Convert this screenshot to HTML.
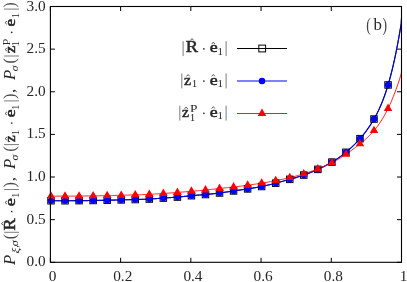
<!DOCTYPE html><html><head><meta charset="utf-8"><title>plot</title><style>html,body{margin:0;padding:0;background:#fff}svg{display:block}text{font-family:"Liberation Serif",serif;fill:#262626}</style></head><body>
<svg width="407" height="282" viewBox="0 0 407 282">
<rect width="407" height="282" fill="#fff"/>
<defs><filter id="g" x="0" y="0" width="100%" height="100%" filterUnits="userSpaceOnUse" color-interpolation-filters="sRGB"><feColorMatrix type="saturate" values="0"/></filter></defs>
<path d="M50.40,262.3v-4.5M50.40,6.5v4.5M120.62,262.3v-4.5M120.62,6.5v4.5M190.84,262.3v-4.5M190.84,6.5v4.5M261.06,262.3v-4.5M261.06,6.5v4.5M331.28,262.3v-4.5M331.28,6.5v4.5M401.50,262.3v-4.5M401.50,6.5v4.5M50.4,262.30h4.5M401.5,262.30h-4.5M50.4,219.67h4.5M401.5,219.67h-4.5M50.4,177.03h4.5M401.5,177.03h-4.5M50.4,134.40h4.5M401.5,134.40h-4.5M50.4,91.77h4.5M401.5,91.77h-4.5M50.4,49.13h4.5M401.5,49.13h-4.5M50.4,6.50h4.5M401.5,6.50h-4.5" stroke="#000" stroke-width="1" fill="none"/>
<path d="M51.00,200.74 L51.88,200.74 L52.76,200.74 L53.63,200.74 L54.51,200.75 L55.39,200.75 L56.27,200.75 L57.14,200.75 L58.02,200.75 L58.90,200.75 L59.78,200.75 L60.66,200.75 L61.53,200.75 L62.41,200.74 L63.29,200.74 L64.17,200.74 L65.04,200.74 L65.92,200.73 L66.80,200.73 L67.68,200.73 L68.55,200.72 L69.43,200.72 L70.31,200.72 L71.19,200.71 L72.07,200.71 L72.94,200.70 L73.82,200.69 L74.70,200.69 L75.58,200.68 L76.45,200.67 L77.33,200.67 L78.21,200.66 L79.09,200.65 L79.97,200.64 L80.84,200.64 L81.72,200.63 L82.60,200.62 L83.48,200.61 L84.35,200.60 L85.23,200.59 L86.11,200.58 L86.99,200.57 L87.87,200.56 L88.74,200.54 L89.62,200.53 L90.50,200.52 L91.38,200.51 L92.25,200.49 L93.13,200.48 L94.01,200.47 L94.89,200.45 L95.77,200.44 L96.64,200.43 L97.52,200.41 L98.40,200.40 L99.28,200.38 L100.15,200.37 L101.03,200.35 L101.91,200.33 L102.79,200.32 L103.66,200.30 L104.54,200.28 L105.42,200.26 L106.30,200.24 L107.18,200.23 L108.05,200.21 L108.93,200.19 L109.81,200.17 L110.69,200.15 L111.56,200.12 L112.44,200.10 L113.32,200.08 L114.20,200.06 L115.08,200.04 L115.95,200.02 L116.83,199.99 L117.71,199.97 L118.59,199.95 L119.46,199.93 L120.34,199.91 L121.22,199.88 L122.10,199.86 L122.98,199.84 L123.85,199.82 L124.73,199.80 L125.61,199.78 L126.49,199.76 L127.36,199.74 L128.24,199.72 L129.12,199.70 L130.00,199.68 L130.88,199.65 L131.75,199.63 L132.63,199.61 L133.51,199.59 L134.39,199.57 L135.26,199.54 L136.14,199.52 L137.02,199.50 L137.90,199.47 L138.78,199.45 L139.65,199.42 L140.53,199.39 L141.41,199.37 L142.29,199.34 L143.16,199.30 L144.04,199.27 L144.92,199.24 L145.80,199.20 L146.67,199.16 L147.55,199.12 L148.43,199.08 L149.31,199.03 L150.19,198.98 L151.06,198.93 L151.94,198.88 L152.82,198.83 L153.70,198.77 L154.57,198.71 L155.45,198.65 L156.33,198.59 L157.21,198.53 L158.09,198.47 L158.96,198.41 L159.84,198.34 L160.72,198.28 L161.60,198.22 L162.47,198.16 L163.35,198.09 L164.23,198.03 L165.11,197.97 L165.99,197.91 L166.86,197.85 L167.74,197.79 L168.62,197.73 L169.50,197.67 L170.37,197.61 L171.25,197.55 L172.13,197.49 L173.01,197.42 L173.89,197.36 L174.76,197.29 L175.64,197.22 L176.52,197.15 L177.40,197.07 L178.27,196.99 L179.15,196.91 L180.03,196.83 L180.91,196.75 L181.78,196.66 L182.66,196.57 L183.54,196.49 L184.42,196.40 L185.30,196.31 L186.17,196.22 L187.05,196.13 L187.93,196.05 L188.81,195.96 L189.68,195.87 L190.56,195.79 L191.44,195.71 L192.32,195.63 L193.20,195.55 L194.07,195.47 L194.95,195.40 L195.83,195.32 L196.71,195.25 L197.58,195.18 L198.46,195.10 L199.34,195.03 L200.22,194.96 L201.10,194.89 L201.97,194.82 L202.85,194.74 L203.73,194.67 L204.61,194.59 L205.48,194.51 L206.36,194.43 L207.24,194.35 L208.12,194.27 L209.00,194.18 L209.87,194.10 L210.75,194.01 L211.63,193.91 L212.51,193.82 L213.38,193.72 L214.26,193.62 L215.14,193.52 L216.02,193.42 L216.89,193.31 L217.77,193.20 L218.65,193.09 L219.53,192.98 L220.41,192.86 L221.28,192.74 L222.16,192.62 L223.04,192.50 L223.92,192.37 L224.79,192.24 L225.67,192.11 L226.55,191.98 L227.43,191.85 L228.31,191.72 L229.18,191.59 L230.06,191.46 L230.94,191.33 L231.82,191.19 L232.69,191.06 L233.57,190.93 L234.45,190.80 L235.33,190.67 L236.21,190.54 L237.08,190.42 L237.96,190.29 L238.84,190.16 L239.72,190.04 L240.59,189.91 L241.47,189.78 L242.35,189.66 L243.23,189.53 L244.11,189.40 L244.98,189.27 L245.86,189.15 L246.74,189.02 L247.62,188.89 L248.49,188.75 L249.37,188.62 L250.25,188.49 L251.13,188.35 L252.00,188.21 L252.88,188.07 L253.76,187.93 L254.64,187.79 L255.52,187.64 L256.39,187.49 L257.27,187.33 L258.15,187.17 L259.03,187.01 L259.90,186.84 L260.78,186.67 L261.66,186.50 L262.54,186.32 L263.42,186.13 L264.29,185.94 L265.17,185.75 L266.05,185.55 L266.93,185.35 L267.80,185.15 L268.68,184.94 L269.56,184.73 L270.44,184.51 L271.32,184.30 L272.19,184.08 L273.07,183.85 L273.95,183.63 L274.83,183.40 L275.70,183.17 L276.58,182.94 L277.46,182.71 L278.34,182.48 L279.22,182.24 L280.09,182.00 L280.97,181.77 L281.85,181.53 L282.73,181.29 L283.60,181.04 L284.48,180.80 L285.36,180.56 L286.24,180.32 L287.11,180.07 L287.99,179.83 L288.87,179.58 L289.75,179.34 L290.63,179.09 L291.50,178.84 L292.38,178.60 L293.26,178.35 L294.14,178.09 L295.01,177.84 L295.89,177.58 L296.77,177.32 L297.65,177.06 L298.53,176.79 L299.40,176.52 L300.28,176.24 L301.16,175.96 L302.04,175.67 L302.91,175.37 L303.79,175.07 L304.67,174.76 L305.55,174.45 L306.43,174.12 L307.30,173.79 L308.18,173.46 L309.06,173.11 L309.94,172.76 L310.81,172.41 L311.69,172.04 L312.57,171.68 L313.45,171.30 L314.33,170.93 L315.20,170.54 L316.08,170.15 L316.96,169.76 L317.84,169.36 L318.71,168.96 L319.59,168.55 L320.47,168.13 L321.35,167.71 L322.22,167.29 L323.10,166.86 L323.98,166.42 L324.86,165.97 L325.74,165.52 L326.61,165.06 L327.49,164.59 L328.37,164.11 L329.25,163.62 L330.12,163.13 L331.00,162.63 L331.88,162.11 L332.76,161.59 L333.64,161.05 L334.51,160.51 L335.39,159.95 L336.27,159.39 L337.15,158.81 L338.02,158.22 L338.90,157.61 L339.78,157.00 L340.66,156.37 L341.54,155.73 L342.41,155.07 L343.29,154.40 L344.17,153.72 L345.05,153.02 L345.92,152.31 L346.80,151.58 L347.68,150.83 L348.56,150.07 L349.44,149.30 L350.31,148.51 L351.19,147.70 L352.07,146.88 L352.95,146.03 L353.82,145.18 L354.70,144.30 L355.58,143.41 L356.46,142.49 L357.33,141.56 L358.21,140.62 L359.09,139.65 L359.97,138.66 L360.85,137.66 L361.72,136.63 L362.60,135.58 L363.48,134.51 L364.36,133.41 L365.23,132.28 L366.11,131.12 L366.99,129.93 L367.87,128.71 L368.75,127.45 L369.62,126.15 L370.50,124.82 L371.38,123.44 L372.26,122.02 L373.13,120.56 L374.01,119.05 L374.89,117.49 L375.77,115.88 L376.65,114.21 L377.52,112.48 L378.40,110.68 L379.28,108.81 L380.16,106.85 L381.03,104.82 L381.91,102.70 L382.79,100.48 L383.67,98.17 L384.55,95.75 L385.42,93.22 L386.30,90.58 L387.18,87.83 L388.06,84.95 L388.93,81.94 L389.81,78.79 L390.69,75.51 L391.57,72.09 L392.44,68.52 L393.32,64.79 L394.20,60.91 L395.08,56.86 L395.96,52.65 L396.83,48.26 L397.71,43.69 L398.59,38.94 L399.47,34.01 L400.34,28.87 L401.22,23.54 L401.50,18.01" stroke="#000" stroke-width="0.9" fill="none"/>
<path d="M51.00,200.74 L51.88,200.74 L52.76,200.74 L53.63,200.74 L54.51,200.75 L55.39,200.75 L56.27,200.75 L57.14,200.75 L58.02,200.75 L58.90,200.75 L59.78,200.75 L60.66,200.75 L61.53,200.75 L62.41,200.74 L63.29,200.74 L64.17,200.74 L65.04,200.74 L65.92,200.73 L66.80,200.73 L67.68,200.73 L68.55,200.72 L69.43,200.72 L70.31,200.72 L71.19,200.71 L72.07,200.71 L72.94,200.70 L73.82,200.69 L74.70,200.69 L75.58,200.68 L76.45,200.67 L77.33,200.67 L78.21,200.66 L79.09,200.65 L79.97,200.64 L80.84,200.64 L81.72,200.63 L82.60,200.62 L83.48,200.61 L84.35,200.60 L85.23,200.59 L86.11,200.58 L86.99,200.57 L87.87,200.56 L88.74,200.54 L89.62,200.53 L90.50,200.52 L91.38,200.51 L92.25,200.49 L93.13,200.48 L94.01,200.47 L94.89,200.45 L95.77,200.44 L96.64,200.43 L97.52,200.41 L98.40,200.40 L99.28,200.38 L100.15,200.37 L101.03,200.35 L101.91,200.33 L102.79,200.32 L103.66,200.30 L104.54,200.28 L105.42,200.26 L106.30,200.24 L107.18,200.23 L108.05,200.21 L108.93,200.19 L109.81,200.17 L110.69,200.15 L111.56,200.12 L112.44,200.10 L113.32,200.08 L114.20,200.06 L115.08,200.04 L115.95,200.02 L116.83,199.99 L117.71,199.97 L118.59,199.95 L119.46,199.93 L120.34,199.91 L121.22,199.88 L122.10,199.86 L122.98,199.84 L123.85,199.82 L124.73,199.80 L125.61,199.78 L126.49,199.76 L127.36,199.74 L128.24,199.72 L129.12,199.70 L130.00,199.68 L130.88,199.65 L131.75,199.63 L132.63,199.61 L133.51,199.59 L134.39,199.57 L135.26,199.54 L136.14,199.52 L137.02,199.50 L137.90,199.47 L138.78,199.45 L139.65,199.42 L140.53,199.39 L141.41,199.37 L142.29,199.34 L143.16,199.30 L144.04,199.27 L144.92,199.24 L145.80,199.20 L146.67,199.16 L147.55,199.12 L148.43,199.08 L149.31,199.03 L150.19,198.98 L151.06,198.93 L151.94,198.88 L152.82,198.83 L153.70,198.77 L154.57,198.71 L155.45,198.65 L156.33,198.59 L157.21,198.53 L158.09,198.47 L158.96,198.41 L159.84,198.34 L160.72,198.28 L161.60,198.22 L162.47,198.16 L163.35,198.09 L164.23,198.03 L165.11,197.97 L165.99,197.91 L166.86,197.85 L167.74,197.79 L168.62,197.73 L169.50,197.67 L170.37,197.61 L171.25,197.55 L172.13,197.49 L173.01,197.42 L173.89,197.36 L174.76,197.29 L175.64,197.22 L176.52,197.15 L177.40,197.07 L178.27,196.99 L179.15,196.91 L180.03,196.83 L180.91,196.75 L181.78,196.66 L182.66,196.57 L183.54,196.49 L184.42,196.40 L185.30,196.31 L186.17,196.22 L187.05,196.13 L187.93,196.05 L188.81,195.96 L189.68,195.87 L190.56,195.79 L191.44,195.71 L192.32,195.63 L193.20,195.55 L194.07,195.47 L194.95,195.40 L195.83,195.32 L196.71,195.25 L197.58,195.18 L198.46,195.10 L199.34,195.03 L200.22,194.96 L201.10,194.89 L201.97,194.82 L202.85,194.74 L203.73,194.67 L204.61,194.59 L205.48,194.51 L206.36,194.43 L207.24,194.35 L208.12,194.27 L209.00,194.18 L209.87,194.10 L210.75,194.01 L211.63,193.91 L212.51,193.82 L213.38,193.72 L214.26,193.62 L215.14,193.52 L216.02,193.42 L216.89,193.31 L217.77,193.20 L218.65,193.09 L219.53,192.98 L220.41,192.86 L221.28,192.74 L222.16,192.62 L223.04,192.50 L223.92,192.37 L224.79,192.24 L225.67,192.11 L226.55,191.98 L227.43,191.85 L228.31,191.72 L229.18,191.59 L230.06,191.46 L230.94,191.33 L231.82,191.19 L232.69,191.06 L233.57,190.93 L234.45,190.80 L235.33,190.67 L236.21,190.54 L237.08,190.42 L237.96,190.29 L238.84,190.16 L239.72,190.04 L240.59,189.91 L241.47,189.78 L242.35,189.66 L243.23,189.53 L244.11,189.40 L244.98,189.27 L245.86,189.15 L246.74,189.02 L247.62,188.89 L248.49,188.75 L249.37,188.62 L250.25,188.49 L251.13,188.35 L252.00,188.21 L252.88,188.07 L253.76,187.93 L254.64,187.79 L255.52,187.64 L256.39,187.49 L257.27,187.33 L258.15,187.17 L259.03,187.01 L259.90,186.84 L260.78,186.67 L261.66,186.50 L262.54,186.32 L263.42,186.13 L264.29,185.94 L265.17,185.75 L266.05,185.55 L266.93,185.35 L267.80,185.15 L268.68,184.94 L269.56,184.73 L270.44,184.51 L271.32,184.30 L272.19,184.08 L273.07,183.85 L273.95,183.63 L274.83,183.40 L275.70,183.17 L276.58,182.94 L277.46,182.71 L278.34,182.48 L279.22,182.24 L280.09,182.00 L280.97,181.77 L281.85,181.53 L282.73,181.29 L283.60,181.04 L284.48,180.80 L285.36,180.56 L286.24,180.32 L287.11,180.07 L287.99,179.83 L288.87,179.58 L289.75,179.34 L290.63,179.09 L291.50,178.84 L292.38,178.60 L293.26,178.35 L294.14,178.09 L295.01,177.84 L295.89,177.58 L296.77,177.32 L297.65,177.06 L298.53,176.79 L299.40,176.52 L300.28,176.24 L301.16,175.96 L302.04,175.67 L302.91,175.37 L303.79,175.07 L304.67,174.76 L305.55,174.45 L306.43,174.12 L307.30,173.79 L308.18,173.46 L309.06,173.11 L309.94,172.76 L310.81,172.41 L311.69,172.04 L312.57,171.68 L313.45,171.30 L314.33,170.93 L315.20,170.54 L316.08,170.15 L316.96,169.76 L317.84,169.36 L318.71,168.96 L319.59,168.55 L320.47,168.13 L321.35,167.71 L322.22,167.29 L323.10,166.86 L323.98,166.42 L324.86,165.97 L325.74,165.52 L326.61,165.06 L327.49,164.59 L328.37,164.11 L329.25,163.62 L330.12,163.13 L331.00,162.63 L331.88,162.11 L332.76,161.59 L333.64,161.05 L334.51,160.51 L335.39,159.95 L336.27,159.39 L337.15,158.81 L338.02,158.22 L338.90,157.61 L339.78,157.00 L340.66,156.37 L341.54,155.73 L342.41,155.07 L343.29,154.40 L344.17,153.72 L345.05,153.02 L345.92,152.31 L346.80,151.58 L347.68,150.83 L348.56,150.07 L349.44,149.30 L350.31,148.51 L351.19,147.70 L352.07,146.88 L352.95,146.03 L353.82,145.18 L354.70,144.30 L355.58,143.41 L356.46,142.49 L357.33,141.56 L358.21,140.62 L359.09,139.65 L359.97,138.66 L360.85,137.66 L361.72,136.63 L362.60,135.58 L363.48,134.51 L364.36,133.41 L365.23,132.28 L366.11,131.12 L366.99,129.93 L367.87,128.71 L368.75,127.45 L369.62,126.15 L370.50,124.82 L371.38,123.44 L372.26,122.02 L373.13,120.56 L374.01,119.05 L374.89,117.49 L375.77,115.88 L376.65,114.21 L377.52,112.48 L378.40,110.68 L379.28,108.81 L380.16,106.85 L381.03,104.82 L381.91,102.70 L382.79,100.48 L383.67,98.17 L384.55,95.75 L385.42,93.22 L386.30,90.58 L387.18,87.83 L388.06,84.95 L388.93,81.94 L389.81,78.79 L390.69,75.51 L391.57,72.09 L392.44,68.52 L393.32,64.79 L394.20,60.91 L395.08,56.86 L395.96,52.65 L396.83,48.26 L397.71,43.69 L398.59,38.94 L399.47,34.01 L400.34,28.87 L401.22,23.54 L401.50,18.01" stroke="#0000e0" stroke-width="1.15" fill="none"/>
<path d="M51.00,196.13 L51.88,196.14 L52.76,196.14 L53.63,196.14 L54.51,196.14 L55.39,196.14 L56.27,196.14 L57.14,196.14 L58.02,196.14 L58.90,196.14 L59.78,196.14 L60.66,196.14 L61.53,196.14 L62.41,196.14 L63.29,196.14 L64.17,196.14 L65.04,196.13 L65.92,196.13 L66.80,196.13 L67.68,196.12 L68.55,196.12 L69.43,196.12 L70.31,196.11 L71.19,196.11 L72.07,196.10 L72.94,196.10 L73.82,196.09 L74.70,196.08 L75.58,196.08 L76.45,196.07 L77.33,196.06 L78.21,196.06 L79.09,196.05 L79.97,196.04 L80.84,196.03 L81.72,196.02 L82.60,196.01 L83.48,196.00 L84.35,195.99 L85.23,195.98 L86.11,195.97 L86.99,195.96 L87.87,195.95 L88.74,195.94 L89.62,195.93 L90.50,195.92 L91.38,195.90 L92.25,195.89 L93.13,195.88 L94.01,195.86 L94.89,195.85 L95.77,195.84 L96.64,195.82 L97.52,195.81 L98.40,195.79 L99.28,195.78 L100.15,195.76 L101.03,195.74 L101.91,195.73 L102.79,195.71 L103.66,195.69 L104.54,195.68 L105.42,195.66 L106.30,195.64 L107.18,195.62 L108.05,195.60 L108.93,195.58 L109.81,195.56 L110.69,195.54 L111.56,195.52 L112.44,195.50 L113.32,195.48 L114.20,195.46 L115.08,195.44 L115.95,195.42 L116.83,195.40 L117.71,195.37 L118.59,195.35 L119.46,195.33 L120.34,195.30 L121.22,195.28 L122.10,195.26 L122.98,195.23 L123.85,195.20 L124.73,195.18 L125.61,195.15 L126.49,195.13 L127.36,195.10 L128.24,195.07 L129.12,195.05 L130.00,195.02 L130.88,194.99 L131.75,194.96 L132.63,194.94 L133.51,194.91 L134.39,194.88 L135.26,194.85 L136.14,194.83 L137.02,194.80 L137.90,194.77 L138.78,194.74 L139.65,194.72 L140.53,194.69 L141.41,194.66 L142.29,194.63 L143.16,194.60 L144.04,194.56 L144.92,194.53 L145.80,194.50 L146.67,194.46 L147.55,194.42 L148.43,194.38 L149.31,194.34 L150.19,194.30 L151.06,194.25 L151.94,194.21 L152.82,194.16 L153.70,194.11 L154.57,194.06 L155.45,194.01 L156.33,193.95 L157.21,193.90 L158.09,193.84 L158.96,193.78 L159.84,193.73 L160.72,193.67 L161.60,193.61 L162.47,193.55 L163.35,193.49 L164.23,193.43 L165.11,193.37 L165.99,193.31 L166.86,193.25 L167.74,193.19 L168.62,193.12 L169.50,193.06 L170.37,193.00 L171.25,192.93 L172.13,192.87 L173.01,192.80 L173.89,192.74 L174.76,192.67 L175.64,192.60 L176.52,192.54 L177.40,192.47 L178.27,192.40 L179.15,192.32 L180.03,192.25 L180.91,192.18 L181.78,192.11 L182.66,192.03 L183.54,191.96 L184.42,191.88 L185.30,191.81 L186.17,191.73 L187.05,191.65 L187.93,191.58 L188.81,191.50 L189.68,191.43 L190.56,191.35 L191.44,191.27 L192.32,191.20 L193.20,191.12 L194.07,191.05 L194.95,190.97 L195.83,190.89 L196.71,190.82 L197.58,190.74 L198.46,190.66 L199.34,190.58 L200.22,190.50 L201.10,190.42 L201.97,190.34 L202.85,190.25 L203.73,190.17 L204.61,190.08 L205.48,189.99 L206.36,189.90 L207.24,189.81 L208.12,189.72 L209.00,189.62 L209.87,189.53 L210.75,189.43 L211.63,189.33 L212.51,189.23 L213.38,189.13 L214.26,189.04 L215.14,188.94 L216.02,188.84 L216.89,188.74 L217.77,188.65 L218.65,188.55 L219.53,188.46 L220.41,188.37 L221.28,188.28 L222.16,188.19 L223.04,188.10 L223.92,188.01 L224.79,187.92 L225.67,187.83 L226.55,187.75 L227.43,187.66 L228.31,187.57 L229.18,187.48 L230.06,187.39 L230.94,187.30 L231.82,187.20 L232.69,187.11 L233.57,187.01 L234.45,186.91 L235.33,186.81 L236.21,186.70 L237.08,186.60 L237.96,186.49 L238.84,186.38 L239.72,186.27 L240.59,186.16 L241.47,186.04 L242.35,185.93 L243.23,185.81 L244.11,185.69 L244.98,185.58 L245.86,185.46 L246.74,185.34 L247.62,185.22 L248.49,185.10 L249.37,184.98 L250.25,184.86 L251.13,184.74 L252.00,184.62 L252.88,184.49 L253.76,184.37 L254.64,184.24 L255.52,184.12 L256.39,183.99 L257.27,183.86 L258.15,183.72 L259.03,183.59 L259.90,183.45 L260.78,183.31 L261.66,183.17 L262.54,183.03 L263.42,182.88 L264.29,182.73 L265.17,182.58 L266.05,182.43 L266.93,182.27 L267.80,182.11 L268.68,181.95 L269.56,181.79 L270.44,181.63 L271.32,181.46 L272.19,181.29 L273.07,181.13 L273.95,180.96 L274.83,180.79 L275.70,180.61 L276.58,180.44 L277.46,180.27 L278.34,180.09 L279.22,179.92 L280.09,179.74 L280.97,179.56 L281.85,179.38 L282.73,179.20 L283.60,179.01 L284.48,178.82 L285.36,178.63 L286.24,178.44 L287.11,178.24 L287.99,178.04 L288.87,177.84 L289.75,177.63 L290.63,177.42 L291.50,177.20 L292.38,176.99 L293.26,176.76 L294.14,176.54 L295.01,176.31 L295.89,176.07 L296.77,175.83 L297.65,175.59 L298.53,175.35 L299.40,175.10 L300.28,174.84 L301.16,174.59 L302.04,174.33 L302.91,174.06 L303.79,173.79 L304.67,173.52 L305.55,173.24 L306.43,172.96 L307.30,172.68 L308.18,172.39 L309.06,172.10 L309.94,171.80 L310.81,171.50 L311.69,171.20 L312.57,170.89 L313.45,170.57 L314.33,170.25 L315.20,169.93 L316.08,169.60 L316.96,169.27 L317.84,168.93 L318.71,168.59 L319.59,168.24 L320.47,167.89 L321.35,167.53 L322.22,167.17 L323.10,166.80 L323.98,166.42 L324.86,166.04 L325.74,165.65 L326.61,165.26 L327.49,164.85 L328.37,164.44 L329.25,164.02 L330.12,163.59 L331.00,163.15 L331.88,162.71 L332.76,162.25 L333.64,161.79 L334.51,161.32 L335.39,160.84 L336.27,160.35 L337.15,159.85 L338.02,159.34 L338.90,158.82 L339.78,158.29 L340.66,157.76 L341.54,157.21 L342.41,156.66 L343.29,156.10 L344.17,155.52 L345.05,154.94 L345.92,154.35 L346.80,153.75 L347.68,153.15 L348.56,152.53 L349.44,151.90 L350.31,151.27 L351.19,150.63 L352.07,149.98 L352.95,149.33 L353.82,148.67 L354.70,148.00 L355.58,147.32 L356.46,146.64 L357.33,145.96 L358.21,145.26 L359.09,144.57 L359.97,143.86 L360.85,143.16 L361.72,142.44 L362.60,141.72 L363.48,140.99 L364.36,140.24 L365.23,139.48 L366.11,138.71 L366.99,137.91 L367.87,137.10 L368.75,136.26 L369.62,135.40 L370.50,134.51 L371.38,133.59 L372.26,132.64 L373.13,131.66 L374.01,130.65 L374.89,129.60 L375.77,128.51 L376.65,127.38 L377.52,126.21 L378.40,125.00 L379.28,123.75 L380.16,122.45 L381.03,121.10 L381.91,119.71 L382.79,118.27 L383.67,116.77 L384.55,115.22 L385.42,113.62 L386.30,111.97 L387.18,110.25 L388.06,108.48 L388.93,106.65 L389.81,104.75 L390.69,102.80 L391.57,100.77 L392.44,98.69 L393.32,96.53 L394.20,94.31 L395.08,92.02 L395.96,89.65 L396.83,87.21 L397.71,84.70 L398.59,82.11 L399.47,79.44 L400.34,76.70 L401.22,73.87 L401.50,70.96" stroke="#ff0000" stroke-width="0.9" fill="none"/>
<rect x="47.75" y="197.49" width="6.5" height="6.5" fill="none" stroke="#000" stroke-width="1"/>
<rect x="61.79" y="197.49" width="6.5" height="6.5" fill="none" stroke="#000" stroke-width="1"/>
<rect x="75.84" y="197.40" width="6.5" height="6.5" fill="none" stroke="#000" stroke-width="1"/>
<rect x="89.88" y="197.23" width="6.5" height="6.5" fill="none" stroke="#000" stroke-width="1"/>
<rect x="103.93" y="196.98" width="6.5" height="6.5" fill="none" stroke="#000" stroke-width="1"/>
<rect x="117.97" y="196.63" width="6.5" height="6.5" fill="none" stroke="#000" stroke-width="1"/>
<rect x="132.01" y="196.29" width="6.5" height="6.5" fill="none" stroke="#000" stroke-width="1"/>
<rect x="146.06" y="195.78" width="6.5" height="6.5" fill="none" stroke="#000" stroke-width="1"/>
<rect x="160.10" y="194.84" width="6.5" height="6.5" fill="none" stroke="#000" stroke-width="1"/>
<rect x="174.15" y="193.82" width="6.5" height="6.5" fill="none" stroke="#000" stroke-width="1"/>
<rect x="188.19" y="192.46" width="6.5" height="6.5" fill="none" stroke="#000" stroke-width="1"/>
<rect x="202.23" y="191.26" width="6.5" height="6.5" fill="none" stroke="#000" stroke-width="1"/>
<rect x="216.28" y="189.73" width="6.5" height="6.5" fill="none" stroke="#000" stroke-width="1"/>
<rect x="230.32" y="187.68" width="6.5" height="6.5" fill="none" stroke="#000" stroke-width="1"/>
<rect x="244.37" y="185.64" width="6.5" height="6.5" fill="none" stroke="#000" stroke-width="1"/>
<rect x="258.41" y="183.25" width="6.5" height="6.5" fill="none" stroke="#000" stroke-width="1"/>
<rect x="272.45" y="179.92" width="6.5" height="6.5" fill="none" stroke="#000" stroke-width="1"/>
<rect x="286.50" y="176.09" width="6.5" height="6.5" fill="none" stroke="#000" stroke-width="1"/>
<rect x="300.54" y="171.82" width="6.5" height="6.5" fill="none" stroke="#000" stroke-width="1"/>
<rect x="314.59" y="166.11" width="6.5" height="6.5" fill="none" stroke="#000" stroke-width="1"/>
<rect x="328.63" y="158.86" width="6.5" height="6.5" fill="none" stroke="#000" stroke-width="1"/>
<rect x="342.67" y="149.06" width="6.5" height="6.5" fill="none" stroke="#000" stroke-width="1"/>
<rect x="356.72" y="135.41" width="6.5" height="6.5" fill="none" stroke="#000" stroke-width="1"/>
<rect x="370.76" y="115.80" width="6.5" height="6.5" fill="none" stroke="#000" stroke-width="1"/>
<rect x="384.81" y="81.70" width="6.5" height="6.5" fill="none" stroke="#000" stroke-width="1"/>
<circle cx="51.00" cy="200.74" r="3.25" fill="#0000ff"/>
<circle cx="65.04" cy="200.74" r="3.25" fill="#0000ff"/>
<circle cx="79.09" cy="200.65" r="3.25" fill="#0000ff"/>
<circle cx="93.13" cy="200.48" r="3.25" fill="#0000ff"/>
<circle cx="107.18" cy="200.23" r="3.25" fill="#0000ff"/>
<circle cx="121.22" cy="199.88" r="3.25" fill="#0000ff"/>
<circle cx="135.26" cy="199.54" r="3.25" fill="#0000ff"/>
<circle cx="149.31" cy="199.03" r="3.25" fill="#0000ff"/>
<circle cx="163.35" cy="198.09" r="3.25" fill="#0000ff"/>
<circle cx="177.40" cy="197.07" r="3.25" fill="#0000ff"/>
<circle cx="191.44" cy="195.71" r="3.25" fill="#0000ff"/>
<circle cx="205.48" cy="194.51" r="3.25" fill="#0000ff"/>
<circle cx="219.53" cy="192.98" r="3.25" fill="#0000ff"/>
<circle cx="233.57" cy="190.93" r="3.25" fill="#0000ff"/>
<circle cx="247.62" cy="188.89" r="3.25" fill="#0000ff"/>
<circle cx="261.66" cy="186.50" r="3.25" fill="#0000ff"/>
<circle cx="275.70" cy="183.17" r="3.25" fill="#0000ff"/>
<circle cx="289.75" cy="179.34" r="3.25" fill="#0000ff"/>
<circle cx="303.79" cy="175.07" r="3.25" fill="#0000ff"/>
<circle cx="317.84" cy="169.36" r="3.25" fill="#0000ff"/>
<circle cx="331.88" cy="162.11" r="3.25" fill="#0000ff"/>
<circle cx="345.92" cy="152.31" r="3.25" fill="#0000ff"/>
<circle cx="359.97" cy="138.66" r="3.25" fill="#0000ff"/>
<circle cx="374.01" cy="119.05" r="3.25" fill="#0000ff"/>
<circle cx="388.06" cy="84.95" r="3.25" fill="#0000ff"/>
<path d="M51.00,191.23L46.76,198.58L55.24,198.58Z" fill="#ff0000"/>
<path d="M65.04,191.23L60.80,198.58L69.29,198.58Z" fill="#ff0000"/>
<path d="M79.09,191.15L74.84,198.50L83.33,198.50Z" fill="#ff0000"/>
<path d="M93.13,190.98L88.89,198.33L97.38,198.33Z" fill="#ff0000"/>
<path d="M107.18,190.72L102.93,198.07L111.42,198.07Z" fill="#ff0000"/>
<path d="M121.22,190.38L116.98,197.73L125.46,197.73Z" fill="#ff0000"/>
<path d="M135.26,189.95L131.02,197.30L139.51,197.30Z" fill="#ff0000"/>
<path d="M149.31,189.44L145.06,196.79L153.55,196.79Z" fill="#ff0000"/>
<path d="M163.35,188.59L159.11,195.94L167.60,195.94Z" fill="#ff0000"/>
<path d="M177.40,187.57L173.15,194.92L181.64,194.92Z" fill="#ff0000"/>
<path d="M191.44,186.37L187.20,193.72L195.68,193.72Z" fill="#ff0000"/>
<path d="M205.48,185.09L201.24,192.44L209.73,192.44Z" fill="#ff0000"/>
<path d="M219.53,183.56L215.28,190.91L223.77,190.91Z" fill="#ff0000"/>
<path d="M233.57,182.11L229.33,189.46L237.82,189.46Z" fill="#ff0000"/>
<path d="M247.62,180.32L243.37,187.67L251.86,187.67Z" fill="#ff0000"/>
<path d="M261.66,178.27L257.42,185.62L265.90,185.62Z" fill="#ff0000"/>
<path d="M275.70,175.71L271.46,183.06L279.95,183.06Z" fill="#ff0000"/>
<path d="M289.75,172.73L285.50,180.08L293.99,180.08Z" fill="#ff0000"/>
<path d="M303.79,168.89L299.55,176.24L308.04,176.24Z" fill="#ff0000"/>
<path d="M317.84,164.03L313.59,171.38L322.08,171.38Z" fill="#ff0000"/>
<path d="M331.88,157.81L327.64,165.16L336.12,165.16Z" fill="#ff0000"/>
<path d="M345.92,149.45L341.68,156.80L350.17,156.80Z" fill="#ff0000"/>
<path d="M359.97,138.96L355.72,146.31L364.21,146.31Z" fill="#ff0000"/>
<path d="M374.01,125.75L369.77,133.10L378.26,133.10Z" fill="#ff0000"/>
<path d="M388.06,103.58L383.81,110.93L392.30,110.93Z" fill="#ff0000"/>
<rect x="50.4" y="6.5" width="351.1" height="255.8" fill="none" stroke="#000" stroke-width="1.1"/>
<g filter="url(#g)">
<text x="45.65" y="266.30" font-size="15.3" text-anchor="end">0.0</text>
<text x="45.65" y="223.67" font-size="15.3" text-anchor="end">0.5</text>
<text x="45.65" y="181.03" font-size="15.3" text-anchor="end">1.0</text>
<text x="45.65" y="138.40" font-size="15.3" text-anchor="end">1.5</text>
<text x="45.65" y="95.77" font-size="15.3" text-anchor="end">2.0</text>
<text x="45.65" y="53.13" font-size="15.3" text-anchor="end">2.5</text>
<text x="45.65" y="10.50" font-size="15.3" text-anchor="end">3.0</text>
<text x="52.50" y="281.4" font-size="15.3" text-anchor="middle">0</text>
<text x="122.72" y="281.4" font-size="15.3" text-anchor="middle">0.2</text>
<text x="192.94" y="281.4" font-size="15.3" text-anchor="middle">0.4</text>
<text x="263.16" y="281.4" font-size="15.3" text-anchor="middle">0.6</text>
<text x="333.38" y="281.4" font-size="15.3" text-anchor="middle">0.8</text>
<text x="403.60" y="281.4" font-size="15.3" text-anchor="middle">1</text>
</g>
<g filter="url(#g)"><g transform="translate(0,30)"><text transform="translate(366.20,0.60) scale(0.738,1)" font-size="18.5" style="fill:#444">(</text><text transform="translate(373.40,0.00) scale(1.054,1)" font-size="16" >b</text><text transform="translate(382.57,0.60) scale(0.738,1)" font-size="18.5" style="fill:#444">)</text></g></g>
<g filter="url(#g)">
<g transform="translate(0,52.4)"><circle cx="203.9" cy="-3.60" r="0.85" fill="#262626"/><text transform="translate(209.64,0.00) scale(1.161,1)" font-size="15.5" stroke="#262626" stroke-width="0.5">e</text><path d="M211.65,-8.35L213.30,-10.25L214.95,-8.35" fill="none" stroke="#262626" stroke-width="0.75"/><text transform="translate(217.40,2.40) scale(1.000,1)" font-size="11" >1</text><path d="M226.1,-11.20V3.70" stroke="#262626" stroke-width="0.75" stroke-opacity="0.8"/><path d="M183.1,-11.20V3.70" stroke="#262626" stroke-width="0.75" stroke-opacity="0.8"/><text transform="translate(185.87,0.00) scale(1.150,1)" font-size="16" stroke="#262626" stroke-width="0.5">R</text><path d="M190.35,-11.95L192.00,-13.85L193.65,-11.95" fill="none" stroke="#262626" stroke-width="0.75"/></g>
<g transform="translate(0,84.7)"><circle cx="203.9" cy="-3.60" r="0.85" fill="#262626"/><text transform="translate(209.64,0.00) scale(1.161,1)" font-size="15.5" stroke="#262626" stroke-width="0.5">e</text><path d="M211.65,-8.35L213.30,-10.25L214.95,-8.35" fill="none" stroke="#262626" stroke-width="0.75"/><text transform="translate(217.40,2.40) scale(1.000,1)" font-size="11" >1</text><path d="M226.1,-11.20V3.70" stroke="#262626" stroke-width="0.75" stroke-opacity="0.8"/><path d="M181.8,-11.20V3.70" stroke="#262626" stroke-width="0.75" stroke-opacity="0.8"/><text transform="translate(184.10,0.00) scale(1.015,1)" font-size="15.5" stroke="#262626" stroke-width="0.5">z</text><path d="M186.45,-8.25L188.10,-10.15L189.75,-8.25" fill="none" stroke="#262626" stroke-width="0.75"/><text transform="translate(191.80,2.40) scale(1.000,1)" font-size="11" >1</text></g>
<g transform="translate(0,116.9)"><circle cx="203.9" cy="-3.60" r="0.85" fill="#262626"/><text transform="translate(209.64,0.00) scale(1.161,1)" font-size="15.5" stroke="#262626" stroke-width="0.5">e</text><path d="M211.65,-8.35L213.30,-10.25L214.95,-8.35" fill="none" stroke="#262626" stroke-width="0.75"/><text transform="translate(217.40,2.40) scale(1.000,1)" font-size="11" >1</text><path d="M226.1,-11.20V3.70" stroke="#262626" stroke-width="0.75" stroke-opacity="0.8"/><path d="M179.8,-11.20V3.70" stroke="#262626" stroke-width="0.75" stroke-opacity="0.8"/><text transform="translate(182.10,0.00) scale(1.015,1)" font-size="15.5" stroke="#262626" stroke-width="0.5">z</text><path d="M184.45,-7.95L186.10,-9.85L187.75,-7.95" fill="none" stroke="#262626" stroke-width="0.75"/><text transform="translate(189.80,3.90) scale(1.000,1)" font-size="11" >1</text><text transform="translate(189.92,-5.30) scale(1.275,1)" font-size="10.5" >P</text></g>
</g>
<path d="M237,48.5H287" stroke="#000" stroke-width="1"/><rect x="258.8" y="45.1" width="6.8" height="6.8" fill="none" stroke="#000" stroke-width="1"/>
<path d="M237,81.0H287" stroke="#0000ff" stroke-width="1"/><circle cx="262" cy="81.0" r="3.25" fill="#0000ff"/>
<path d="M237,113.5H287" stroke="#ff0000" stroke-width="0.9"/><path d="M262.00,108.60L257.76,115.95L266.24,115.95Z" fill="#ff0000"/>
<g filter="url(#g)"><g transform="translate(15.3,265.5) rotate(-90)">
<text transform="translate(0.40,0.00) scale(1.042,1)" font-size="16" font-style="italic">P</text><text transform="translate(11.92,3.30) scale(1.330,1)" font-size="10" font-style="italic">ξ</text><text transform="translate(17.80,3.10) scale(1.000,1)" font-size="11" >,</text><text transform="translate(19.27,3.10) scale(1.109,1)" font-size="11" font-style="italic">σ</text><text transform="translate(26.22,0.00) scale(0.976,1)" font-size="16" style="fill:#4a4a4a">(</text><path d="M33.2,-11.20V3.70" stroke="#262626" stroke-width="0.75" stroke-opacity="0.8"/><text transform="translate(35.07,0.00) scale(1.140,1)" font-size="16" stroke="#262626" stroke-width="0.5">R</text><path d="M40.25,-11.95L41.90,-13.85L43.55,-11.95" fill="none" stroke="#262626" stroke-width="0.75"/><circle cx="54.0" cy="-3.60" r="0.85" fill="#262626"/><text transform="translate(59.13,0.00) scale(1.177,1)" font-size="15.5" stroke="#262626" stroke-width="0.5">e</text><path d="M61.35,-8.35L63.00,-10.25L64.65,-8.35" fill="none" stroke="#262626" stroke-width="0.75"/><text transform="translate(67.40,3.20) scale(1.000,1)" font-size="11" >1</text><path d="M76.0,-11.20V3.70" stroke="#262626" stroke-width="0.75" stroke-opacity="0.8"/><text transform="translate(77.99,0.00) scale(1.024,1)" font-size="16" style="fill:#4a4a4a">)</text><text transform="translate(84.22,0.00) scale(1.136,1)" font-size="15" >,</text><text transform="translate(96.40,0.00) scale(1.042,1)" font-size="16" font-style="italic">P</text><text transform="translate(105.07,3.10) scale(1.091,1)" font-size="11" font-style="italic">σ</text><text transform="translate(113.78,0.00) scale(1.024,1)" font-size="16" style="fill:#4a4a4a">(</text><path d="M120.9,-11.20V3.70" stroke="#262626" stroke-width="0.75" stroke-opacity="0.8"/><text transform="translate(123.20,0.00) scale(1.000,1)" font-size="15.5" stroke="#262626" stroke-width="0.5">z</text><path d="M125.25,-8.25L126.90,-10.15L128.55,-8.25" fill="none" stroke="#262626" stroke-width="0.75"/><text transform="translate(130.20,3.20) scale(1.000,1)" font-size="11" >1</text><circle cx="142.5" cy="-3.60" r="0.85" fill="#262626"/><text transform="translate(148.15,0.00) scale(1.129,1)" font-size="15.5" stroke="#262626" stroke-width="0.5">e</text><path d="M150.35,-8.35L152.00,-10.25L153.65,-8.35" fill="none" stroke="#262626" stroke-width="0.75"/><text transform="translate(155.50,3.20) scale(1.000,1)" font-size="11" >1</text><path d="M164.6,-11.20V3.70" stroke="#262626" stroke-width="0.75" stroke-opacity="0.8"/><text transform="translate(166.39,0.00) scale(1.024,1)" font-size="16" style="fill:#4a4a4a">)</text><text transform="translate(172.62,0.00) scale(1.136,1)" font-size="15" >,</text><text transform="translate(185.50,0.00) scale(1.042,1)" font-size="16" font-style="italic">P</text><text transform="translate(194.18,3.10) scale(1.055,1)" font-size="11" font-style="italic">σ</text><text transform="translate(202.10,0.00) scale(1.000,1)" font-size="16" style="fill:#4a4a4a">(</text><path d="M209.5,-11.20V3.70" stroke="#262626" stroke-width="0.75" stroke-opacity="0.8"/><text transform="translate(212.28,0.00) scale(1.077,1)" font-size="15.5" stroke="#262626" stroke-width="0.5">z</text><path d="M214.35,-8.25L216.00,-10.15L217.65,-8.25" fill="none" stroke="#262626" stroke-width="0.75"/><text transform="translate(219.10,3.60) scale(1.000,1)" font-size="11" >1</text><text transform="translate(220.05,-5.70) scale(1.176,1)" font-size="10.5" >P</text><circle cx="233.2" cy="-3.60" r="0.85" fill="#262626"/><text transform="translate(238.95,0.00) scale(1.113,1)" font-size="15.5" stroke="#262626" stroke-width="0.5">e</text><path d="M241.15,-8.35L242.80,-10.25L244.45,-8.35" fill="none" stroke="#262626" stroke-width="0.75"/><text transform="translate(247.30,3.20) scale(1.000,1)" font-size="11" >1</text><path d="M256.4,-11.20V3.70" stroke="#262626" stroke-width="0.75" stroke-opacity="0.8"/><text transform="translate(257.91,0.00) scale(0.976,1)" font-size="16" style="fill:#4a4a4a">)</text>
</g></g>
</svg></body></html>
